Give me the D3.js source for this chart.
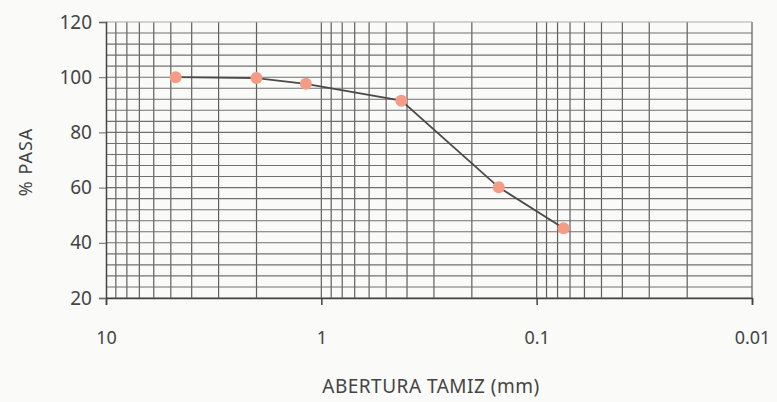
<!DOCTYPE html>
<html>
<head>
<meta charset="utf-8">
<script src="https://cdn.jsdelivr.net/npm/d3@7"></script>
<style>
  body { margin: 0; background: #fafaf8; }
  svg { display: block; }
  text { font-family: "Noto Sans", sans-serif; fill: #333; }
</style>
</head>
<body>
<svg id="chart" width="777" height="402"></svg>
<script>
// sieve openings (mm) and % passing
const abertura = [4.75, 2.0, 1.18, 0.425, 0.15, 0.075];
const pasa = [100, 99.7, 97.6, 91.5, 60.1, 45.3];
const xTicks = [10, 1, 0.1, 0.01];
const yTicks = [20, 40, 60, 80, 100, 120];

const plotL = 106, plotR = 752, plotT = 22, plotB = 298;

const svg = d3.select("#chart");

const x = d3.scaleLog().domain([10, 0.01]).range([plotL, plotR]);
const y = d3.scaleLinear().domain([20, 120]).range([plotB, plotT]);

// minor log grid (1..9 in each decade)
const xGrid = [];
[1, 0.1, 0.01].forEach(function(d) {
    for (let k = 1; k <= 9; k++) xGrid.push(d * k);
});
const yGrid = d3.range(20, 121, 4);

const grid = svg.append("g");
grid.selectAll("line.v")
    .data(xGrid)
    .join("line")
    .attr("x1", d => x(d)).attr("x2", d => x(d))
    .attr("y1", plotT).attr("y2", plotB)
    .style("stroke", "#5f5f5f").style("stroke-width", 1.2);
grid.selectAll("line.h")
    .data(yGrid)
    .join("line")
    .attr("x1", plotL).attr("x2", plotR)
    .attr("y1", d => y(d)).attr("y2", d => y(d))
    .style("stroke", d => d === 120 ? "#aaa" : "#707070").style("stroke-width", 1.1);

// axes
svg.append("g")
    .attr("transform", "translate(0," + plotB + ")")
    .call(d3.axisBottom(x).tickValues(xTicks).tickSize(7).tickFormat(d3.format("~g")))
    .call(g => g.select(".domain").attr("stroke", "#444").attr("stroke-width", 1.5))
    .call(g => g.selectAll(".tick line").attr("stroke", "#444").attr("stroke-width", 1.5))
    .call(g => g.selectAll(".tick text").attr("dy", 0).attr("y", 46)
        .style("font-size", "18px").style("fill", "#444").style("font-family", "'Noto Sans', sans-serif"));

svg.append("g")
    .attr("transform", "translate(" + plotL + ",0)")
    .call(d3.axisLeft(y).tickValues(yTicks).tickSize(7))
    .call(g => g.select(".domain").attr("stroke", "#444").attr("stroke-width", 1.5))
    .call(g => g.selectAll(".tick line").attr("stroke", "#666"))
    .call(g => g.selectAll(".tick text").attr("x", -14)
        .style("font-size", "19px").style("fill", "#444").style("font-family", "'Noto Sans', sans-serif"));

// curve
const pts = abertura.map((a, i) => [a, pasa[i]]);
svg.append("path")
    .datum(pts)
    .attr("fill", "none")
    .attr("stroke", "#4a4a4a")
    .attr("stroke-width", 1.8)
    .attr("d", d3.line().x(d => x(d[0])).y(d => y(d[1])));

svg.append("g")
    .selectAll("circle")
    .data(pts)
    .join("circle")
    .attr("cx", d => x(d[0]))
    .attr("cy", d => y(d[1]))
    .attr("r", 6)
    .style("fill", "#f49c86");

// labels
svg.append("text").text("% PASA")
    .attr("transform", "translate(32,162) rotate(-90)")
    .attr("text-anchor", "middle")
    .style("font-size", "18px").style("letter-spacing", "1px").style("fill", "#444");
svg.append("text").text("ABERTURA TAMIZ (mm)")
    .attr("x", 431).attr("y", 393)
    .attr("text-anchor", "middle")
    .style("font-size", "19px").style("letter-spacing", "0.5px").style("fill", "#444");
</script>
</body>
</html>
